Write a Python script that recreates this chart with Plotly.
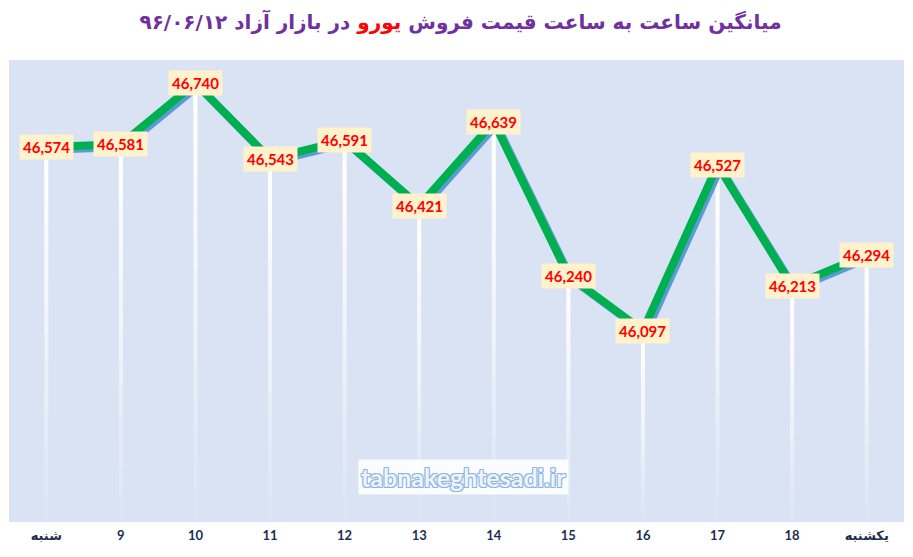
import plotly.graph_objects as go

days = ["شنبه", "9", "10", "11", "12", "13", "14", "15", "16", "17", "18", "یکشنبه"]
prices = [46574, 46581, 46740, 46543, 46591, 46421, 46639, 46240, 46097, 46527, 46213, 46294]

Y_MIN, Y_MAX = 45600, 46800
xs = list(range(len(days)))
x_range = [-0.5, len(days) - 0.5]

fig = go.Figure()

# white drop lines, fading towards the bottom (stacked slices)
N = 14
for k in range(N):
    alpha = 0.08 + 0.92 * (k / (N - 1)) ** 0.9
    fig.add_trace(go.Bar(
        x=xs,
        y=[(v - Y_MIN) / N for v in prices],
        base=[Y_MIN + (v - Y_MIN) * k / N for v in prices],
        width=0.055,
        marker=dict(color="rgba(255,255,255,%.3f)" % alpha, line_width=0),
        hoverinfo="skip", showlegend=False,
    ))

# blue shadow under the green line (drawn on slightly shifted axes)
fig.add_trace(go.Scatter(x=xs, y=prices, mode="lines", xaxis="x2", yaxis="y2",
                         line=dict(color="#5b9bd5", width=8), showlegend=False, hoverinfo="skip"))
fig.add_trace(go.Scatter(x=xs, y=prices, mode="lines", xaxis="x3", yaxis="y3",
                         line=dict(color="#00b050", width=8), showlegend=False))

for i, v in enumerate(prices):
    fig.add_annotation(x=i, y=v, text="<b>{:,}</b>".format(v), showarrow=False,
                       bgcolor="#fff2cc", borderpad=3,
                       font=dict(family="Lato, DejaVu Sans", size=15, color="#ff0000"))

fig.add_annotation(xref="paper", yref="paper", x=0.508, y=0.097,
                   xanchor="center", yanchor="middle",
                   text="<b>tabnakeghtesadi.ir</b>", showarrow=False,
                   bgcolor="rgba(255,255,255,0.88)", borderpad=2,
                   font=dict(family="Lato", size=25, color="#eef4fb",
                             shadow="1px 1px 0 #8db3e2, -1px -1px 0 #8db3e2, 1px -1px 0 #8db3e2, -1px 1px 0 #8db3e2"))

fig.update_layout(
    width=905, height=549,
    margin=dict(l=1, r=9, t=52, b=35),
    paper_bgcolor="white", plot_bgcolor="#dae3f3",
    barmode="overlay",
    title=dict(
        text='<b>میانگین ساعت به ساعت قیمت فروش <span style="color:#ff0000">یورو</span> در بازار آزاد ۹۶/۰۶/۱۲</b>',
        x=0.5, xanchor="center", y=1 - 14 / 549, yanchor="middle",
        font=dict(family="DejaVu Sans", size=20, color="#7030a0")),
    xaxis=dict(range=x_range, tickvals=xs, ticktext=["<b>%s</b>" % d for d in days],
               showgrid=False, zeroline=False, showline=False, ticks="",
               tickfont=dict(family="Lato, DejaVu Sans", size=13, color="#1f2d50"),
               ticklabelstandoff=4),
    yaxis=dict(range=[Y_MIN, Y_MAX], showgrid=False, zeroline=False, showticklabels=False),
    xaxis2=dict(overlaying="x", range=[x_range[0] - 0.035, x_range[1] - 0.035], visible=False),
    yaxis2=dict(overlaying="y", range=[Y_MIN + 7, Y_MAX + 7], visible=False),
    xaxis3=dict(overlaying="x", range=x_range, visible=False),
    yaxis3=dict(overlaying="y", range=[Y_MIN, Y_MAX], visible=False),
)

fig.write_html("out.html")
